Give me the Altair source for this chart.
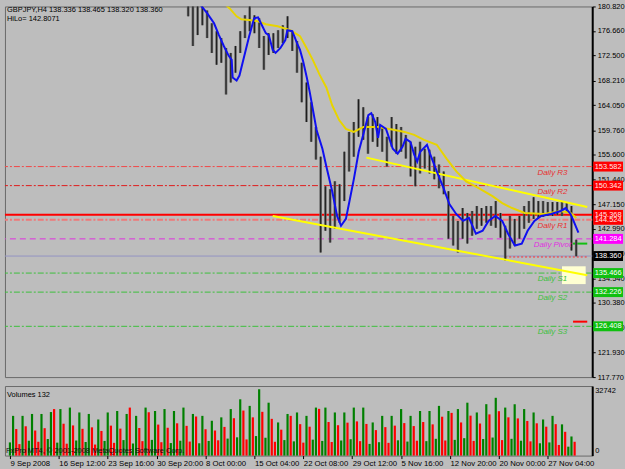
import json
import altair as alt
import pandas as pd

FONT = "Liberation Sans"
BG = "#bdbdbd"
W, H_P, H_V = 591, 373, 70
XMAX = 366
PMIN, PMAX = 117.77, 180.82

# ---------------- data ----------------
header_symbol = "GBPJPY,H4"
header_vals = ["138.336", "138.465", "138.320", "138.360"]
hilo_text = "HiLo= 142.8071"

price_ticks = [180.82, 176.66, 172.5, 168.21, 164.05, 159.76, 155.6, 151.44,
               147.15, 142.99, 138.83, 134.54, 130.38, 126.22, 121.93, 117.77]

time_labels = ["9 Sep 2008", "16 Sep 12:00", "23 Sep 16:00", "30 Sep 20:00",
               "8 Oct 00:00", "15 Oct 04:00", "22 Oct 08:00", "29 Oct 12:00",
               "5 Nov 16:00", "12 Nov 20:00", "20 Nov 00:00", "27 Nov 04:00"]
time_tick_bars = [0, 31, 62, 93, 124, 155, 186, 217, 248, 279, 310, 341]

price_bar = list(range(113, 360, 3))
price_high = [182.16, 181.83, 181.32, 180.82, 180.15, 177.96, 176.62, 175.44, 173.76, 172.92,
              174.10, 176.62, 179.31, 180.99, 179.31, 178.80, 175.78, 176.28, 176.28, 176.79,
              177.63, 179.14, 176.62, 174.94, 171.24, 167.88, 164.52, 160.32, 155.27, 150.23,
              149.73, 151.07, 150.57, 156.11, 159.48, 161.16, 165.02, 163.68, 162.00, 162.50,
              162.00, 160.32, 158.64, 162.00, 160.82, 160.32, 158.97, 157.79, 156.95, 157.79,
              156.62, 156.45, 155.27, 153.93, 152.75, 149.39, 145.19, 144.34, 146.53, 145.69,
              146.03, 146.87, 146.53, 146.87, 146.87, 147.71, 145.69, 143.51, 145.19, 144.68,
              145.19, 146.87, 147.71, 148.38, 147.71, 147.71, 147.54, 147.54, 147.54, 147.71,
              147.37, 146.87, 141.15]
price_low = [179.14, 174.10, 175.95, 177.63, 175.44, 172.92, 170.90, 171.24, 165.86, 167.88,
             169.56, 172.92, 175.44, 176.62, 176.28, 173.76, 170.06, 172.58, 172.92, 173.76,
             174.60, 175.44, 173.26, 169.56, 164.52, 161.16, 157.79, 154.77, 138.97, 142.66,
             140.65, 143.00, 144.01, 147.71, 152.75, 155.27, 158.64, 158.13, 155.78, 157.79,
             156.95, 156.11, 153.59, 156.95, 155.78, 156.11, 154.94, 151.91, 150.23, 152.42,
             153.26, 152.42, 151.41, 149.90, 148.89, 141.32, 140.15, 138.97, 141.32, 140.48,
             141.82, 143.00, 143.51, 144.01, 143.51, 143.17, 141.49, 137.62, 139.64, 140.15,
             141.32, 143.00, 144.01, 144.68, 144.85, 145.02, 145.19, 145.19, 145.36, 145.19,
             145.69, 139.31, 138.32]

blue_bar = [120.1, 125.1, 129.4, 132.5, 135.6, 138.7, 140.6, 141.2, 143.7, 145.5, 148.6, 151.7,
            154.8, 157.3, 159.1, 162.2, 164.1, 166.6, 168.4, 171.5, 174.6, 175.9, 179.0, 182.0,
            183.9, 185.8, 188.2, 190.1, 194.4, 198.1, 200.6, 204.3, 207.4, 209.9, 213.0, 214.9,
            218.0, 221.1, 224.1, 227.2, 229.1, 231.6, 233.4, 234.7, 238.4, 242.7, 245.8, 248.9,
            250.8, 253.9, 256.3, 258.2, 260.1, 264.4, 266.3, 270.6, 274.9, 278.6, 282.9, 287.3,
            291.0, 295.4, 299.7, 303.4, 307.7, 312.1, 315.8, 320.1, 324.5, 328.2, 332.5, 336.8,
            343.0, 349.2, 352.3, 355.4, 357.3, 360.4]
blue_price = [181.32, 179.64, 177.96, 175.95, 174.10, 172.42, 171.74, 168.72, 168.21, 169.06,
              172.42, 175.78, 178.80, 178.97, 177.96, 176.28, 175.95, 173.43, 172.92, 173.76,
              175.11, 176.79, 176.62, 174.60, 173.43, 171.58, 168.72, 166.20, 159.81, 156.62,
              153.59, 149.39, 145.19, 143.51, 144.68, 147.21, 151.41, 156.11, 159.14, 162.33,
              162.67, 161.16, 158.47, 160.66, 159.98, 156.62, 155.78, 156.95, 158.30, 157.79,
              155.61, 154.43, 156.11, 157.29, 155.78, 152.75, 149.90, 147.21, 145.52, 144.34,
              144.85, 142.16, 142.66, 144.34, 145.19, 144.34, 142.16, 140.15, 140.48, 142.66,
              144.34, 145.19, 145.52, 146.03, 146.53, 145.52, 144.34, 142.33]

yellow_bar = [134.4, 139.3, 143.7, 146.7, 152.9, 157.3, 162.2, 169.7, 177.7, 183.9, 187.0,
              192.0, 196.3, 200.6, 204.3, 208.7, 213.0, 218.0, 224.1, 233.4, 244.0, 250.2,
              256.3, 262.5, 270.6, 276.8, 283.0, 289.2, 297.2, 305.9, 312.1, 318.3, 326.3,
              338.7, 349.2, 355.4, 359.1]
yellow_price = [181.66, 180.48, 179.14, 178.63, 178.47, 178.30, 177.79, 177.46, 176.79, 175.78,
                174.27, 171.74, 169.22, 167.04, 164.01, 161.49, 159.98, 159.48, 160.32, 160.32,
                159.81, 159.48, 158.97, 158.13, 157.29, 154.94, 152.75, 151.07, 149.90, 148.55,
                147.37, 146.53, 145.69, 145.52, 146.03, 145.69, 144.85]

trend_bar = [226.0, 366.0, 166.6, 366.0]
trend_price = [155.10, 146.70, 145.19, 135.11]
trend_id = ["upper", "upper", "lower", "lower"]

level_names = ["Daily R3", "Daily R2", "", "Daily R1", "Daily Pivot", "", "Daily S1", "Daily S2", "Daily S3"]
level_values = [153.582, 150.342, 145.368, 144.524, 141.284, 138.360, 135.466, 132.226, 126.408]
level_kind = ["R", "R", "H", "R", "P", "B", "S", "S", "S"]

zone_bars = [350, 365]
zone_prices = [136.62, 133.59]

vol_bar = list(range(0, 360, 2))
vol = [
    6200, 18700, 12500, 5400, 18700, 13800, 7000, 19600, 11800, 6500, 19600, 12900,
    7800, 20500, 21900, 6100, 21900, 15000, 5600, 22600, 14200, 7100, 20300, 12600,
    6400, 19600, 13300, 5200, 17000, 11600, 6900, 20300, 14100, 6000, 21000, 12700,
    7300, 19600, 22600, 5700, 18700, 13000, 6800, 22600, 20400, 7400, 21000, 14600,
    6300, 21900, 13100, 5900, 21000, 15200, 7000, 22600, 14000, 6600, 19600, 18400,
    5800, 18700, 12400, 6900, 16400, 11800, 7200, 18000, 13500, 8000, 21900, 17600,
    8600, 26500, 21200, 7600, 23400, 18000, 9200, 31200, 20600, 8400, 24900, 17300,
    6500, 15600, 12200, 7300, 19600, 18700, 6700, 20300, 14800, 6100, 18700, 13600,
    7500, 22600, 22000, 6900, 22600, 15800, 6400, 20300, 14300, 7100, 20300, 15500,
    7700, 22600, 16100, 6800, 22600, 14900, 5500, 15600, 12000, 6300, 18700, 13400,
    6000, 18700, 14100, 7200, 21900, 15300, 6600, 18700, 13900, 7000, 21000, 15800,
    6800, 21000, 14700, 7900, 23400, 18300, 7100, 21000, 20100, 7400, 21900, 15600,
    8200, 24900, 18800, 6900, 20300, 15100, 7800, 24200, 19400, 8500, 27200, 20900,
    7300, 22600, 18000, 7900, 24200, 17500, 7000, 21900, 16300, 6700, 20300, 15200,
    5800, 17000, 13600, 6200, 18700, 14800, 5000, 14700, 11200, 4200, 9000, 6500,
]
vol_dir = ("ggr" "rgr" "ggr" "rgr" "ggr" "ggr" "rgr" "ggr" "ggr" "rgr"
           "ggr" "rgr" "ggr" "ggr" "rgr" "ggr" "rgr" "ggr" "ggr" "rgr"
           "ggr" "ggr" "rgr" "ggr" "ggr" "rgr" "ggr" "ggr" "rgr" "ggr"
           "ggr" "rgr" "ggr" "ggr" "rgr" "ggr" "ggr" "rgr" "ggr" "ggr"
           "rgr" "ggr" "ggr" "rgr" "ggr" "ggr" "rgr" "ggr" "ggr" "rgr"
           "ggr" "ggr" "rgr" "ggr" "ggr" "rgr" "ggr" "ggr" "rgr" "ggr")
vol_max = 32742
vol_title = "Volumes 132"
copyright_text = "FxPro MT4, \u00a9 2001-2008 MetaQuotes Software Corp."

# ---------------- styles ----------------
kind_line = {"R": "#f04848", "H": "#ff0000", "P": "#e030e0", "B": "#9494c4", "S": "#3cc03c"}
kind_text = {"R": "#e83030", "P": "#e030e0", "S": "#3cc03c"}
kind_box = {"R": "#ff0000", "H": "#ff0000", "P": "#ff00ff", "B": "#000000", "S": "#10c010"}

xs = alt.Scale(domain=[0, XMAX], nice=False, zero=False)
ys = alt.Scale(domain=[PMIN, PMAX], nice=False, zero=False)
yaxis = alt.Axis(orient="right", values=price_ticks, labelExpr="format(datum.value, '.3f')",
                 tickSize=3, tickColor="#000000", domain=True, domainColor="#000000",
                 domainWidth=2, grid=False, title=None, labelFont=FONT, labelFontSize=7.5,
                 labelColor="#000000", labelPadding=2, labelOverlap=False)


def X(f):
    return alt.X(f, type="quantitative", scale=xs, axis=None)


def Y(f):
    return alt.Y(f, type="quantitative", scale=ys, axis=yaxis)


layers = []

# level lines
for name, v, k in zip(level_names, level_values, level_kind):
    d = pd.DataFrame({"p": [v]})
    kw = {}
    if k in ("R", "S"):
        kw["strokeDash"] = [6, 2, 2, 2]
    if k == "P":
        kw["strokeDash"] = [6, 4]
    width = 2 if k in ("H",) or name == "Daily R1" else 1
    col = "#f07878" if name == "Daily R1" else kind_line[k]
    if name == "Daily R2":
        col = "#e01c1c"
    layers.append(alt.Chart(d).mark_rule(color=col, strokeWidth=width, **kw).encode(y=Y("p")))

zone_df = pd.DataFrame({"b0": [zone_bars[0]], "b1": [zone_bars[1]],
                        "p0": [zone_prices[0]], "p1": [zone_prices[1]]})
layers.append(alt.Chart(zone_df).mark_rect(color="#ffffd2").encode(
    x=X("b0"), x2="b1", y=Y("p0"), y2="p1"))

short_df = pd.DataFrame({"b0": [357, 357, 314], "b1": [366, 366, 366],
                         "p": [140.48, 127.2, 138.2], "c": ["#10c010", "#ff0000", "#ff3030"]})
layers.append(alt.Chart(short_df.iloc[:2]).mark_rule(strokeWidth=2).encode(
    x=X("b0"), x2="b1", y=Y("p"), color=alt.Color("c:N", scale=None)))
layers.append(alt.Chart(short_df.iloc[2:]).mark_rule(strokeWidth=1, strokeDash=[2, 2]).encode(
    x=X("b0"), x2="b1", y=Y("p"), color=alt.Color("c:N", scale=None)))

bars_df = pd.DataFrame({"bar": price_bar, "high": price_high, "low": price_low})
layers.append(alt.Chart(bars_df).mark_bar(width=2.6, color="#666666", clip=True).encode(
    x=X("bar"), y=Y("high"), y2="low"))
layers.append(alt.Chart(bars_df).mark_rule(color="#1c1c1c", strokeWidth=1, clip=True).encode(
    x=X("bar"), y=Y("high"), y2="low"))

trend_df = pd.DataFrame({"bar": trend_bar, "p": trend_price, "id": trend_id})
layers.append(alt.Chart(trend_df).mark_line(color="#ffff00", strokeWidth=2, clip=True).encode(
    x=X("bar"), y=Y("p"), detail="id:N"))

yel_df = pd.DataFrame({"bar": yellow_bar, "p": yellow_price})
layers.append(alt.Chart(yel_df).mark_line(color="#e8d400", strokeWidth=2, clip=True).encode(
    x=X("bar"), y=Y("p")))

blue_df = pd.DataFrame({"bar": blue_bar, "p": blue_price})
layers.append(alt.Chart(blue_df).mark_line(color="#1010f0", strokeWidth=2, clip=True).encode(
    x=X("bar"), y=Y("p")))

# level labels
lab_rows = [(n, v, kind_text[k]) for n, v, k in zip(level_names, level_values, level_kind) if n]
lab_df = pd.DataFrame(lab_rows, columns=["n", "p", "c"])
layers.append(alt.Chart(lab_df).mark_text(font=FONT, fontSize=8, fontStyle="italic", dy=6,
                                          align="center", baseline="middle").encode(
    x=alt.value(551), y=Y("p"), text="n:N", color=alt.Color("c:N", scale=None)))

# price boxes on axis
box_df = pd.DataFrame({"p": level_values,
                       "fill": [kind_box[k] for k in level_kind],
                       "lab": [f"{v:.3f}" for v in level_values],
                       "tc": ["#ffe8e8" if k in ("R", "H") else "#ffffff" for k in level_kind]})
layers.append(alt.Chart(box_df).mark_tick(orient="horizontal", thickness=10, size=30, opacity=1).encode(
    x=alt.value(607), y=Y("p"), color=alt.Color("fill:N", scale=None)))
layers.append(alt.Chart(box_df).mark_text(font=FONT, fontSize=7.5, align="center", baseline="middle").encode(
    x=alt.value(607), y=Y("p"), text="lab:N", color=alt.Color("tc:N", scale=None)))

head_df = pd.DataFrame({"t": [header_symbol + "  " + " ".join(header_vals), hilo_text]})
layers.append(alt.Chart(head_df.iloc[:1]).mark_text(font=FONT, fontSize=7.5, align="left",
                                                    baseline="middle", color="#000000").encode(
    x=alt.value(2), y=alt.value(4), text="t:N"))
layers.append(alt.Chart(head_df.iloc[1:]).mark_text(font=FONT, fontSize=7.5, align="left",
                                                    baseline="middle", color="#000000").encode(
    x=alt.value(2), y=alt.value(13), text="t:N"))

price_chart = alt.layer(*layers).properties(width=W, height=H_P)

# ---------------- volume panel ----------------
vs = alt.Scale(domain=[0, vol_max], nice=False, zero=True)
vaxis = alt.Axis(orient="right", values=[], domain=True, domainColor="#000000", domainWidth=2,
                 ticks=False, labels=False, grid=False, title=None)
label_expr = json.dumps(time_labels) + "[indexof(" + json.dumps(time_tick_bars) + ", datum.value)]"
xaxis = alt.Axis(values=time_tick_bars, labelExpr=label_expr, labelAlign="left", labelFlush=False,
                 tickSize=3, tickColor="#000000", domain=False, grid=False, title=None,
                 labelFont=FONT, labelFontSize=7.8, labelColor="#000000", labelPadding=1,
                 labelOverlap=False)

vol_df = pd.DataFrame({"bar": vol_bar, "vol": vol, "dir": list(vol_dir)})
vbars = alt.Chart(vol_df).mark_bar(width=2.2).encode(
    x=alt.X("bar:Q", scale=xs, axis=xaxis),
    y=alt.Y("vol:Q", scale=vs, axis=vaxis),
    color=alt.Color("dir:N", scale=alt.Scale(domain=["g", "r"], range=["#008000", "#ff0000"]), legend=None))

vtxt_top = alt.Chart(pd.DataFrame({"v": [vol_max], "t": [str(vol_max)]})).mark_text(
    font=FONT, fontSize=7.5, align="left", baseline="top", dy=1).encode(
    x=alt.value(594), y=alt.Y("v:Q", scale=vs, axis=vaxis), text="t:N")
vtxt_bot = alt.Chart(pd.DataFrame({"v": [0], "t": ["0"]})).mark_text(
    font=FONT, fontSize=7.5, align="left", baseline="bottom", dy=-1).encode(
    x=alt.value(594), y=alt.Y("v:Q", scale=vs, axis=vaxis), text="t:N")
vtitle = alt.Chart(pd.DataFrame({"t": [vol_title]})).mark_text(
    font=FONT, fontSize=7.5, align="left", baseline="middle", color="#000000").encode(
    x=alt.value(2), y=alt.value(9), text="t:N")
vcopy = alt.Chart(pd.DataFrame({"t": [copyright_text]})).mark_text(
    font=FONT, fontSize=7.5, align="left", baseline="middle", color="#101010").encode(
    x=alt.value(1), y=alt.value(65), text="t:N")

vol_chart = alt.layer(vbars, vtxt_top, vtxt_bot, vtitle, vcopy).properties(width=W, height=H_V)

chart = alt.vconcat(price_chart, vol_chart, spacing=4).properties(
    padding={"left": 3, "top": 0, "right": 0, "bottom": 0},
    background=BG,
).configure_view(fill=BG, stroke="#6a6a6a", strokeWidth=1)

chart.save("out.html", embed_options={"renderer": "svg", "actions": False})
